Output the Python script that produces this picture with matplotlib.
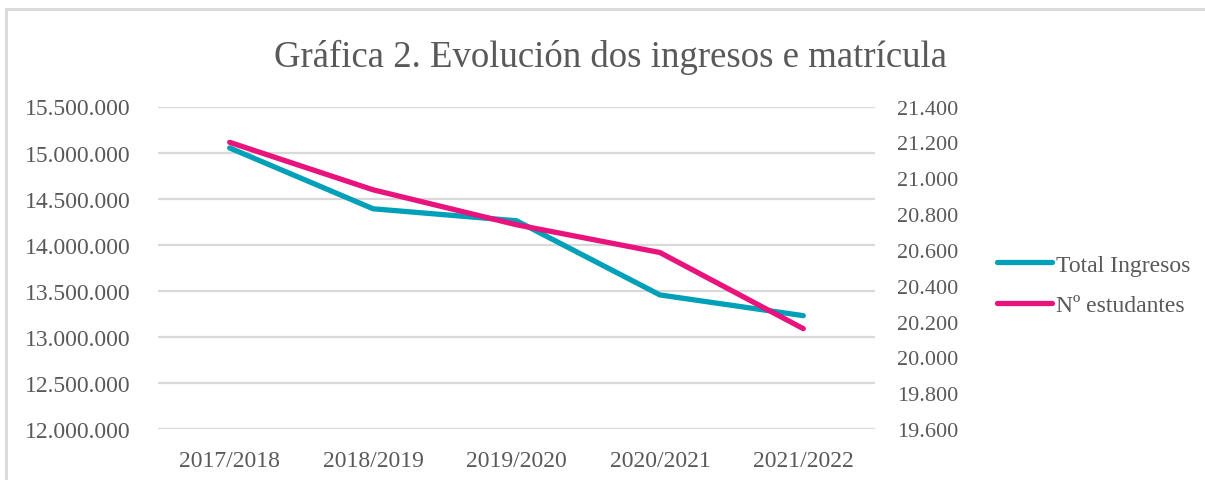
import matplotlib
matplotlib.use("Agg")
import matplotlib.pyplot as plt
from matplotlib.patches import Rectangle
from matplotlib.ticker import FuncFormatter

courses = ["2017/2018", "2018/2019", "2019/2020", "2020/2021", "2021/2022"]
total_ingresos = [15050000, 14390000, 14260000, 13455000, 13230000]
n_estudantes = [21200, 20935, 20740, 20585, 20160]

teal = "#00A0B8"
pink = "#E8137D"
grey_text = "#595959"
grid_col = "#D9D9D9"

plt.rcParams['font.family'] = ['Liberation Serif', 'DejaVu Serif']


def dots(v, pos):
    return "{:,.0f}".format(v).replace(",", ".")


fig = plt.figure(figsize=(12.05, 4.81), dpi=100)

# chart border (only top/left visible in reference)
fig.patches.append(Rectangle((6 / 1205, -0.1), 1.2, 1 - 10 / 481 + 0.1,
                             transform=fig.transFigure, fill=False,
                             edgecolor="#D9D9D9", linewidth=2))

ax = fig.add_axes([158 / 1205, 1 - 430 / 481, (875 - 158) / 1205, (430 - 107.5) / 481])
ax2 = ax.twinx()

x = range(len(courses))
l1, = ax.plot(x, total_ingresos, color=teal, linewidth=3.8,
              solid_capstyle="round", solid_joinstyle="round", label="Total Ingresos")
l2, = ax2.plot(x, n_estudantes, color=pink, linewidth=3.8,
               solid_capstyle="round", solid_joinstyle="round", label="Nº estudantes")

ax.set_ylim(12000000, 15500000)
ax.set_yticks(range(12000000, 15500001, 500000))
ax2.set_ylim(19600, 21400)
ax2.set_yticks(range(19600, 21401, 200))
ax.yaxis.set_major_formatter(FuncFormatter(dots))
ax2.yaxis.set_major_formatter(FuncFormatter(dots))

ax.set_xlim(-0.5, len(courses) - 0.5)
ax.set_xticks(list(x))
ax.set_xticklabels(courses)

ax.grid(axis="y", color=grid_col, linewidth=1.6)
ax.set_axisbelow(True)
for a in (ax, ax2):
    for s in a.spines.values():
        s.set_visible(False)
    a.tick_params(length=0, labelsize=17, labelcolor=grey_text)
ax2.tick_params(labelsize=16)
ax.tick_params(axis="y", pad=20)
ax.tick_params(axis="x", pad=15)
ax2.tick_params(axis="y", pad=16)

fig.text(611 / 1205, 1 - 57 / 481, "Gráfica 2. Evolución dos ingresos e matrícula",
         ha="center", va="center", fontsize=26.5, color=grey_text)

fig.legend([l1, l2], ["Total Ingresos", "Nº estudantes"],
           loc="center left", bbox_to_anchor=(976 / 1205, 1 - 286 / 481),
           frameon=False, fontsize=17, handlelength=2.3, handletextpad=0.2,
           labelspacing=0.8, labelcolor=grey_text)

fig.savefig("out.png", dpi=100, facecolor="white")
